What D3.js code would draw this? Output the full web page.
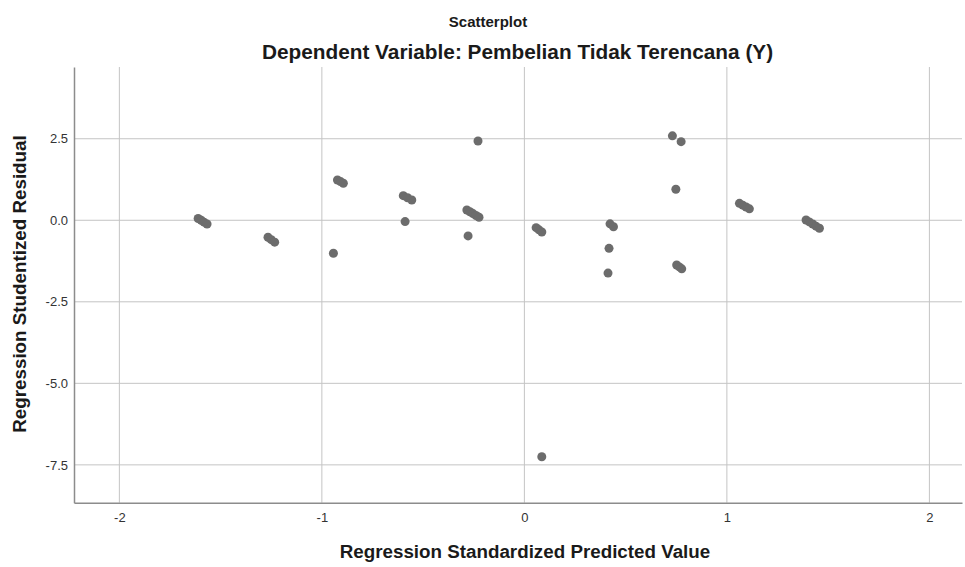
<!DOCTYPE html>
<html>
<head>
<meta charset="utf-8">
<script src="https://cdn.jsdelivr.net/npm/d3@7"></script>
<style>
  html, body { margin: 0; padding: 0; background: #fff; }
  text { font-family: "Liberation Sans", Arial, sans-serif; }
</style>
</head>
<body>
<svg id="chart" width="965" height="567"></svg>
<script>
const predicted = [
  -1.611, -1.596, -1.582, -1.567,
  -1.266, -1.250, -1.233,
  -0.943,
  -0.923, -0.908, -0.894,
  -0.598, -0.577, -0.556,
  -0.589,
  -0.284, -0.269, -0.254, -0.239, -0.224,
  -0.278,
  -0.229,
  0.058, 0.072, 0.086,
  0.086,
  0.423, 0.440,
  0.418,
  0.413,
  0.731, 0.774,
  0.748,
  0.752, 0.765, 0.777,
  1.062, 1.078, 1.095, 1.111,
  1.391, 1.407, 1.424, 1.440, 1.457
];
const residual = [
  0.055, 0.000, -0.057, -0.113,
  -0.520, -0.595, -0.670,
  -1.010,
  1.236, 1.186, 1.135,
  0.755, 0.690, 0.623,
  -0.040,
  0.316, 0.260, 0.204, 0.148, 0.092,
  -0.480,
  2.430,
  -0.227, -0.293, -0.360,
  -7.250,
  -0.110, -0.200,
  -0.860,
  -1.620,
  2.590, 2.410,
  0.950,
  -1.370, -1.430, -1.490,
  0.520, 0.463, 0.407, 0.350,
  0.010, -0.050, -0.115, -0.180, -0.245
];
const xTicks = [-2, -1, 0, 1, 2];
const yTicks = [2.5, 0, -2.5, -5, -7.5];
const xDomain = [-2.224, 2.161];
const yDomain = [-8.66, 4.70];
const titleText = "Scatterplot";
const subtitleText = "Dependent Variable: Pembelian Tidak Terencana (Y)";
const xLabel = "Regression Standardized Predicted Value";
const yLabel = "Regression Studentized Residual";

(function () {
const svg = d3.select("#chart");
const mLeft = 74, mRight = 962, mTop = 67, mBottom = 502.7;

const x = d3.scaleLinear().domain(xDomain).range([mLeft, mRight]);
const y = d3.scaleLinear().domain(yDomain).range([mBottom, mTop]);

// gridlines
svg.append("g").selectAll("line").data(xTicks).join("line")
  .attr("x1", d => x(d)).attr("x2", d => x(d))
  .attr("y1", mTop).attr("y2", mBottom)
  .attr("stroke", "#c4c4c4").attr("stroke-width", 1);
svg.append("g").selectAll("line").data(yTicks).join("line")
  .attr("x1", mLeft).attr("x2", mRight)
  .attr("y1", d => y(d)).attr("y2", d => y(d))
  .attr("stroke", "#c4c4c4").attr("stroke-width", 1);

// axes
const xAxis = svg.append("g").attr("transform", `translate(0,${mBottom})`)
  .call(d3.axisBottom(x).tickValues(xTicks).tickSize(0).tickPadding(10)
    .tickFormat(d => String(d)));
const yAxis = svg.append("g").attr("transform", `translate(${mLeft},0)`)
  .call(d3.axisLeft(y).tickValues(yTicks).tickSize(0).tickPadding(6)
    .tickFormat(d => d.toFixed(1)));
[xAxis, yAxis].forEach(a => {
  a.select(".domain").attr("stroke", "#8c8c8c").attr("stroke-width", 1.5);
  a.selectAll("text").attr("font-size", 13).attr("fill", "#333")
    .attr("font-family", "'Liberation Sans', Arial, sans-serif");
});

// points
const pts = predicted.map((p, i) => ({ p, r: residual[i] }));
svg.append("g").selectAll("circle").data(pts).join("circle")
  .attr("cx", d => x(d.p)).attr("cy", d => y(d.r))
  .attr("r", 4.5).attr("fill", "#6c6c6c");

// titles
svg.append("text").attr("x", 488).attr("y", 26.5).attr("text-anchor", "middle")
  .attr("font-size", 15).attr("font-weight", "bold").attr("fill", "#1a1a1a").text(titleText);
svg.append("text").attr("x", 517.5).attr("y", 59).attr("text-anchor", "middle")
  .attr("font-size", 20.8).attr("font-weight", "bold").attr("fill", "#1a1a1a").text(subtitleText);
svg.append("text").attr("x", 525).attr("y", 558).attr("text-anchor", "middle")
  .attr("font-size", 18.8).attr("font-weight", "bold").attr("fill", "#1a1a1a").text(xLabel);
svg.append("text").attr("transform", "translate(26,284) rotate(-90)").attr("text-anchor", "middle")
  .attr("font-size", 18.8).attr("font-weight", "bold").attr("fill", "#1a1a1a").text(yLabel);
})();
</script>
</body>
</html>
